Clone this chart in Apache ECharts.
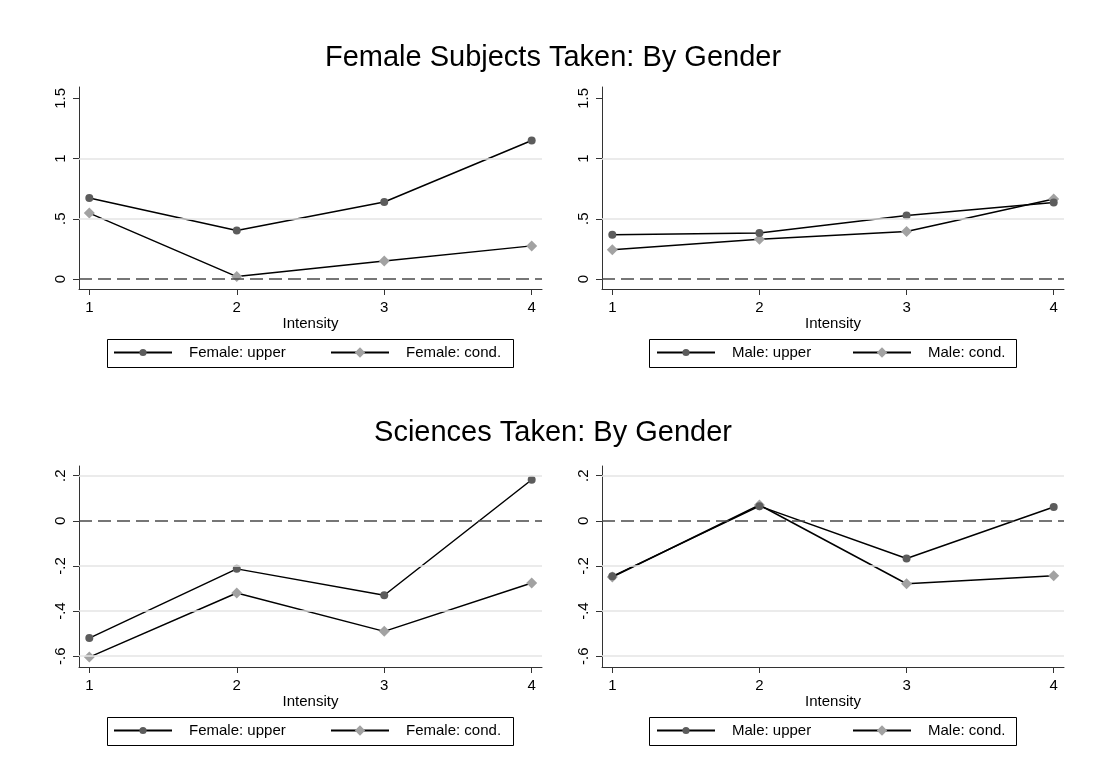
<!DOCTYPE html>
<html>
<head>
<meta charset="utf-8">
<title>Subjects and Sciences Taken by Gender</title>
<script src="https://cdn.jsdelivr.net/npm/echarts@6/dist/echarts.min.js"></script>
<style>
  html, body { margin: 0; padding: 0; background: #fff; }
  #chart { width: 1100px; height: 783px; }
</style>
</head>
<body>
<div id="chart"></div>
<script>
// Intensity levels on the x axis
const intensity = [1, 2, 3, 4];
const xTicks = [1, 2, 3, 4];

// Female subjects taken
const subjFemaleUpper = [0.672, 0.403, 0.639, 1.15];
const subjFemaleCond  = [0.547, 0.02, 0.15, 0.275];
const subjMaleUpper   = [0.367, 0.381, 0.528, 0.636];
const subjMaleCond    = [0.242, 0.331, 0.394, 0.664];

// Sciences taken
const sciFemaleUpper = [-0.52, -0.213, -0.33, 0.182];
const sciFemaleCond  = [-0.604, -0.32, -0.49, -0.276];
const sciMaleUpper   = [-0.246, 0.065, -0.167, 0.061];
const sciMaleCond    = [-0.249, 0.07, -0.279, -0.244];

// Y tick labels and light grid lines for each row
const subjTicks = [0, 0.5, 1, 1.5];
const subjGridLines = [0.5, 1];
const sciTicks = [-0.6, -0.4, -0.2, 0, 0.2];
const sciGridLines = [-0.6, -0.4, -0.2, 0.2];

const rowTitles = ['Female Subjects Taken: By Gender', 'Sciences Taken: By Gender'];
const seriesNames = {
  femaleUpper: 'Female: upper',
  femaleCond: 'Female: cond.',
  maleUpper: 'Male: upper',
  maleCond: 'Male: cond.'
};

const FONT = "'Liberation Sans', Arial, Helvetica, sans-serif";

const panels = [
  { left: 79,  top: 87,  width: 463, height: 202, yMin: -0.083, yMax: 1.594,
    ticks: subjTicks, gridLines: subjGridLines, upper: subjFemaleUpper, cond: subjFemaleCond,
    upperName: seriesNames.femaleUpper, condName: seriesNames.femaleCond },
  { left: 602, top: 87,  width: 462, height: 202, yMin: -0.083, yMax: 1.594,
    ticks: subjTicks, gridLines: subjGridLines, upper: subjMaleUpper, cond: subjMaleCond,
    upperName: seriesNames.maleUpper, condName: seriesNames.maleCond },
  { left: 79,  top: 466, width: 463, height: 201, yMin: -0.648, yMax: 0.243,
    ticks: sciTicks, gridLines: sciGridLines, upper: sciFemaleUpper, cond: sciFemaleCond,
    upperName: seriesNames.femaleUpper, condName: seriesNames.femaleCond },
  { left: 602, top: 466, width: 462, height: 201, yMin: -0.648, yMax: 0.243,
    ticks: sciTicks, gridLines: sciGridLines, upper: sciMaleUpper, cond: sciMaleCond,
    upperName: seriesNames.maleUpper, condName: seriesNames.maleCond }
];

// Stata-style tick text: drop the leading zero (".5", "-.2")
function tickText(v) {
  return String(+v.toFixed(4)).replace(/^(-?)0\./, '$1.');
}

const pairs = (ys) => intensity.map((x, i) => [x, ys[i]]);

const grid = [], xAxis = [], yAxis = [], series = [];

panels.forEach((p, i) => {
  grid.push({ left: p.left, top: p.top, width: p.width, height: p.height, containLabel: false });

  xAxis.push({
    type: 'value', gridIndex: i, min: 0.93, max: 4.07,
    name: 'Intensity', nameLocation: 'middle', nameGap: 23,
    nameTextStyle: { fontSize: 15, color: '#000', fontFamily: FONT },
    axisLine: { show: true, onZero: false, lineStyle: { color: '#333', width: 1 } },
    axisTick: { show: true, length: 6, customValues: xTicks, lineStyle: { color: '#333', width: 1 } },
    axisLabel: { customValues: xTicks, fontSize: 15, color: '#000', margin: 11, fontFamily: FONT,
                 formatter: (v) => String(v) },
    splitLine: { show: false }
  });

  yAxis.push({
    type: 'value', gridIndex: i, min: p.yMin, max: p.yMax,
    axisLine: { show: true, onZero: false, lineStyle: { color: '#333', width: 1 } },
    axisTick: { show: true, length: 6, customValues: p.ticks, lineStyle: { color: '#333', width: 1 } },
    axisLabel: { customValues: p.ticks, rotate: 90, fontSize: 15, color: '#000', margin: 11,
                 fontFamily: FONT, formatter: tickText },
    splitLine: { show: false }
  });

  // light horizontal grid lines
  series.push({
    type: 'line', xAxisIndex: i, yAxisIndex: i, data: [], z: 1, silent: true,
    markLine: {
      silent: true, symbol: 'none', label: { show: false }, animation: false,
      lineStyle: { color: '#e4e4e4', width: 1.5, type: 'solid' },
      emphasis: { disabled: true },
      data: p.gridLines.map((v) => ({ yAxis: v }))
    }
  });

  // dashed reference line at zero
  series.push({
    type: 'line', xAxisIndex: i, yAxisIndex: i, data: [], z: 2, silent: true,
    markLine: {
      silent: true, symbol: 'none', label: { show: false }, animation: false,
      lineStyle: { color: '#4a4a4a', width: 1.6, type: [13, 6] },
      emphasis: { disabled: true },
      data: [{ yAxis: 0 }]
    }
  });

  series.push({
    type: 'line', name: p.upperName, xAxisIndex: i, yAxisIndex: i, z: 4,
    data: pairs(p.upper),
    symbol: 'circle', symbolSize: 8,
    itemStyle: { color: '#5c5c5c' },
    lineStyle: { color: '#000', width: 1.5 }
  });

  series.push({
    type: 'line', name: p.condName, xAxisIndex: i, yAxisIndex: i, z: 3,
    data: pairs(p.cond),
    symbol: 'diamond', symbolSize: 11,
    itemStyle: { color: '#a2a2a2' },
    lineStyle: { color: '#000', width: 1.5 }
  });
});

// One legend per entry so the circle and diamond keys can have their own sizes;
// the framing box around each pair is drawn as a graphic rectangle.
function legendItem(left, top, name, symbolHeight) {
  return {
    left: left, top: top, orient: 'horizontal', padding: 0,
    data: [name], selectedMode: false,
    itemWidth: 58, itemHeight: symbolHeight,
    textStyle: { fontSize: 15, color: '#000', fontFamily: FONT, padding: [0, 0, 0, 12] }
  };
}

const legendRows = [
  { boxLeft: 107, boxTop: 339, boxWidth: 406, names: [seriesNames.femaleUpper, seriesNames.femaleCond], itemLefts: [113, 330] },
  { boxLeft: 649, boxTop: 339, boxWidth: 367, names: [seriesNames.maleUpper, seriesNames.maleCond], itemLefts: [656, 852] },
  { boxLeft: 107, boxTop: 717, boxWidth: 406, names: [seriesNames.femaleUpper, seriesNames.femaleCond], itemLefts: [113, 330] },
  { boxLeft: 649, boxTop: 717, boxWidth: 367, names: [seriesNames.maleUpper, seriesNames.maleCond], itemLefts: [656, 852] }
];

const legend = [];
const graphic = [];
legendRows.forEach((r) => {
  legend.push(legendItem(r.itemLefts[0], r.boxTop + 6, r.names[0], 9));
  legend.push(legendItem(r.itemLefts[1], r.boxTop + 6, r.names[1], 13));
  graphic.push({
    type: 'rect', silent: true, z: 0,
    shape: { x: r.boxLeft + 0.5, y: r.boxTop + 0.5, width: r.boxWidth, height: 28 },
    style: { fill: 'none', stroke: '#000', lineWidth: 1 }
  });
});

graphic.push(
  { type: 'text', x: 553, y: 58, silent: true,
    style: { text: rowTitles[0], fontSize: 29, fill: '#000', fontFamily: FONT,
             align: 'center', verticalAlign: 'middle' } },
  { type: 'text', x: 553, y: 433, silent: true,
    style: { text: rowTitles[1], fontSize: 29, fill: '#000', fontFamily: FONT,
             align: 'center', verticalAlign: 'middle' } }
);

const chart = echarts.init(document.getElementById('chart'), null, { renderer: 'canvas' });
chart.setOption({
  animation: false,
  backgroundColor: '#fff',
  textStyle: { fontFamily: FONT },
  grid, xAxis, yAxis, series, legend, graphic
});
</script>
</body>
</html>
